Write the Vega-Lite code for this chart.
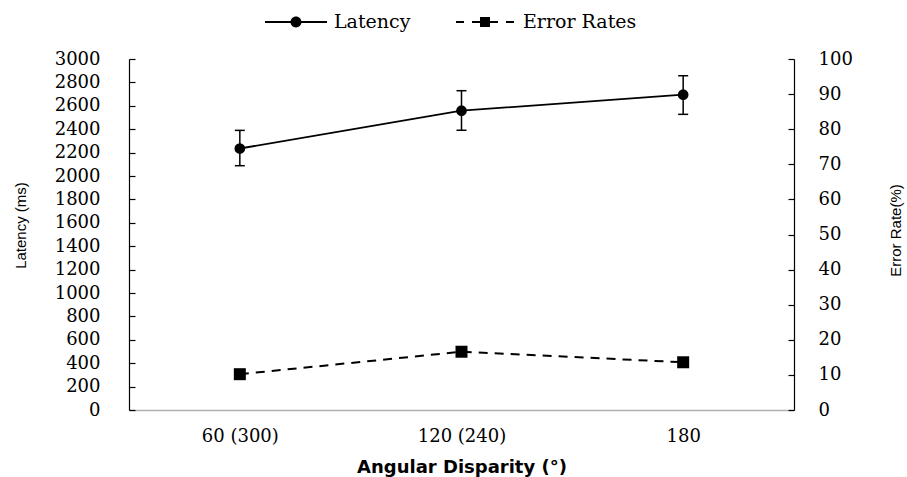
{
  "$schema": "https://vega.github.io/schema/vega-lite/v6.json",
  "width": 665,
  "height": 351,
  "autosize": {"type": "none"},
  "padding": {"left": 129, "top": 59, "right": 113, "bottom": 67},
  "background": "white",
  "datasets": {
    "main": [
      {"angle": "60 (300)", "latency": 2235, "lo": 2088, "hi": 2390, "err": 10.2},
      {"angle": "120 (240)", "latency": 2558, "lo": 2391, "hi": 2729, "err": 16.6},
      {"angle": "180", "latency": 2695, "lo": 2527, "hi": 2857, "err": 13.6}
    ],
    "legend": [{"series": "Latency"}, {"series": "Error Rates"}]
  },
  "config": {
    "view": {"stroke": null},
    "axis": {
      "grid": false,
      "labelFont": "DejaVu Serif",
      "labelFontSize": 18,
      "labelColor": "black",
      "titleColor": "black",
      "domainColor": "black",
      "tickColor": "black",
      "labelOverlap": false
    }
  },
  "layer": [
    {
      "data": {"name": "main"},
      "encoding": {
        "x": {
          "field": "angle", "type": "ordinal", "sort": null,
          "scale": {"type": "point", "padding": 0.5},
          "axis": {
            "title": "Angular Disparity (°)",
            "titleFont": "DejaVu Sans", "titleFontSize": 18, "titleFontWeight": "bold",
            "titleY": 57, "titleBaseline": "middle",
            "ticks": false, "domainColor": "#b0b0b0", "domainWidth": 1.5,
            "labelPadding": 17, "labelAngle": 0
          }
        }
      },
      "layer": [
        {
          "mark": {"type": "rule", "color": "black", "strokeWidth": 1.5},
          "encoding": {
            "y": {
              "field": "lo", "type": "quantitative",
              "scale": {"domain": [0, 3000], "nice": false},
              "axis": {
                "orient": "left",
                "values": [0, 200, 400, 600, 800, 1000, 1200, 1400, 1600, 1800, 2000, 2200, 2400, 2600, 2800, 3000],
                "tickCount": 30,
                "format": "d",
                "labelOverlap": false,
                "title": "Latency (ms)",
                "titleFont": "Liberation Sans", "titleFontSize": 15, "titleFontWeight": "normal",
                "titleAngle": 270, "titleX": -109, "titleY": 166,
                "titleAlign": "center", "titleBaseline": "middle",
                "tickSize": -6, "labelPadding": 35, "domainWidth": 1.2, "tickWidth": 1.2
              }
            },
            "y2": {"field": "hi"}
          }
        },
        {
          "mark": {"type": "tick", "color": "black", "thickness": 1.5, "size": 10, "opacity": 1},
          "encoding": {"y": {"field": "lo", "type": "quantitative"}}
        },
        {
          "mark": {"type": "tick", "color": "black", "thickness": 1.5, "size": 10, "opacity": 1},
          "encoding": {"y": {"field": "hi", "type": "quantitative"}}
        },
        {
          "mark": {"type": "line", "color": "black", "strokeWidth": 1.8},
          "encoding": {"y": {"field": "latency", "type": "quantitative"}}
        },
        {
          "mark": {"type": "point", "shape": "circle", "filled": true, "color": "black", "size": 115, "opacity": 1},
          "encoding": {"y": {"field": "latency", "type": "quantitative"}}
        }
      ]
    },
    {
      "data": {"name": "main"},
      "encoding": {
        "x": {"field": "angle", "type": "ordinal", "sort": null, "scale": {"type": "point", "padding": 0.5}}
      },
      "layer": [
        {
          "mark": {"type": "line", "color": "black", "strokeWidth": 2, "strokeDash": [9, 7]},
          "encoding": {
            "y": {
              "field": "err", "type": "quantitative",
              "scale": {"domain": [0, 100], "nice": false},
              "axis": {
                "orient": "right",
                "values": [0, 10, 20, 30, 40, 50, 60, 70, 80, 90, 100],
                "tickCount": 20,
                "format": "d",
                "labelOverlap": false,
                "title": "Error Rate(%)",
                "titleFont": "Liberation Sans", "titleFontSize": 15, "titleFontWeight": "normal",
                "titleAngle": 270, "titleX": 101, "titleY": 171,
                "titleAlign": "center", "titleBaseline": "middle",
                "tickSize": -6, "labelPadding": 30, "domainWidth": 1.2, "tickWidth": 1.2
              }
            }
          }
        },
        {
          "mark": {"type": "point", "shape": "square", "filled": true, "color": "black", "size": 144, "opacity": 1},
          "encoding": {"y": {"field": "err", "type": "quantitative"}}
        }
      ]
    },
    {
      "data": {"name": "legend"},
      "mark": {"type": "point", "filled": true, "color": "black", "opacity": 0},
      "encoding": {
        "shape": {
          "field": "series", "type": "nominal",
          "scale": {
            "domain": ["Latency", "Error Rates"],
            "range": [
              "M-1,-0.03H1V0.03H-1ZM-0.177,0A0.177,0.177 0 1,1 0.177,0A0.177,0.177 0 1,1 -0.177,0Z",
              "M-0.935,-0.035H-0.677V0.035H-0.935ZM-0.419,-0.035H-0.097V0.035H-0.419ZM0.097,-0.035H0.419V0.035H0.097ZM0.677,-0.035H0.935V0.035H0.677ZM-0.161,-0.161H0.161V0.161H-0.161Z"
            ]
          },
          "legend": {
            "title": null,
            "orient": "none",
            "legendX": 136,
            "legendY": -68,
            "direction": "horizontal",
            "symbolSize": 3844,
            "symbolFillColor": "black",
            "symbolStrokeColor": "black",
            "symbolStrokeWidth": 0,
            "symbolOpacity": 1,
            "labelFont": "DejaVu Serif",
            "labelFontSize": 19,
            "labelColor": "black",
            "labelOffset": 7,
            "columnPadding": 43,
            "padding": 0
          }
        }
      }
    }
  ],
  "resolve": {"scale": {"y": "independent"}, "axis": {"y": "independent"}}
}
